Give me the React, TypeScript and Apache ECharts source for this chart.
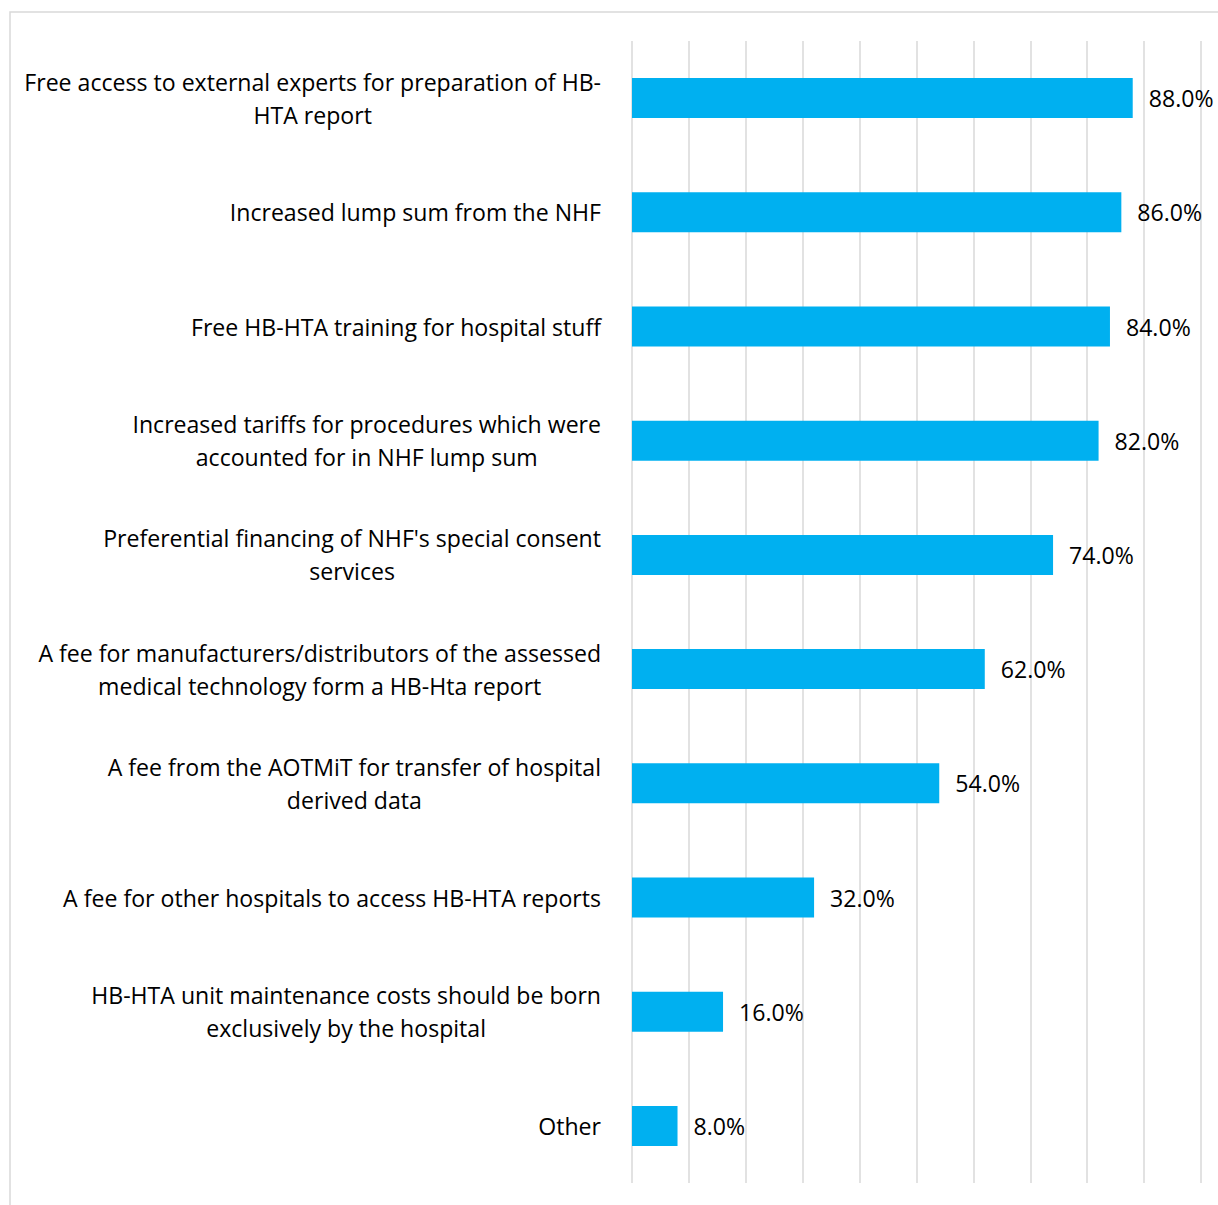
import React, { useEffect, useRef } from "react";
import * as echarts from "echarts";

const categories: string[] = [
  "Free access to external experts for preparation of HB-\nHTA report",
  "Increased lump sum from the NHF",
  "Free HB-HTA training for hospital stuff",
  "Increased tariffs for procedures which were\naccounted for in NHF lump sum",
  "Preferential financing of NHF's special consent\nservices",
  "A fee for manufacturers/distributors of the assessed\nmedical technology form a HB-Hta report",
  "A fee from the AOTMiT for transfer of hospital\nderived data",
  "A fee for other hospitals to access HB-HTA reports",
  "HB-HTA unit maintenance costs should be born\nexclusively by the hospital",
  "Other",
];

const values: number[] = [88, 86, 84, 82, 74, 62, 54, 32, 16, 8];

const FONT = "Open Sans";
const FS = 23.1;

export default function App() {
  const ref = useRef<HTMLDivElement>(null);
  useEffect(() => {
    if (!ref.current) return;
    const chart = echarts.init(ref.current, undefined, { renderer: "svg" });
    chart.setOption({
      animation: false,
      backgroundColor: "#ffffff",
      graphic: [
        {
          type: "rect",
          shape: { x: 10, y: 12, width: 1230, height: 1220 },
          style: { fill: "none", stroke: "#d9d9d9", lineWidth: 1.5 },
          silent: true,
        },
      ],
      grid: { left: 632, right: 17, top: 41, bottom: 22, containLabel: false },
      xAxis: {
        type: "value",
        min: 0,
        max: 100,
        interval: 10,
        axisLabel: { show: false },
        axisLine: { show: false },
        axisTick: { show: false },
        splitLine: { show: true, lineStyle: { color: "#d9d9d9", width: 1.5 } },
      },
      yAxis: {
        type: "category",
        inverse: true,
        data: categories,
        axisLine: { show: false },
        axisTick: { show: false },
        axisLabel: {
          margin: 31,
          align: "right",
          fontFamily: FONT,
          fontSize: FS,
          color: "#000000",
          lineHeight: 33,
          formatter: (v: string) =>
            v
              .split("\n")
              .map((l) => "{c|" + l + "}")
              .join("\n"),
          rich: {
            c: {
              align: "center",
              fontFamily: FONT,
              fontSize: FS,
              color: "#000000",
              lineHeight: 33,
            },
          },
        },
      },
      series: [
        {
          type: "bar",
          data: values,
          barWidth: 40,
          itemStyle: { color: "#00b0f0" },
          label: {
            show: true,
            position: "right",
            distance: 16,
            fontFamily: FONT,
            fontSize: FS,
            color: "#000000",
            formatter: (p: any) => p.value.toFixed(1) + "%",
          },
        },
      ],
    });
    return () => chart.dispose();
  }, []);
  return (
    <div
      ref={ref}
      style={{ position: "absolute", left: 0, top: 0, width: 1218, height: 1205 }}
    />
  );
}
